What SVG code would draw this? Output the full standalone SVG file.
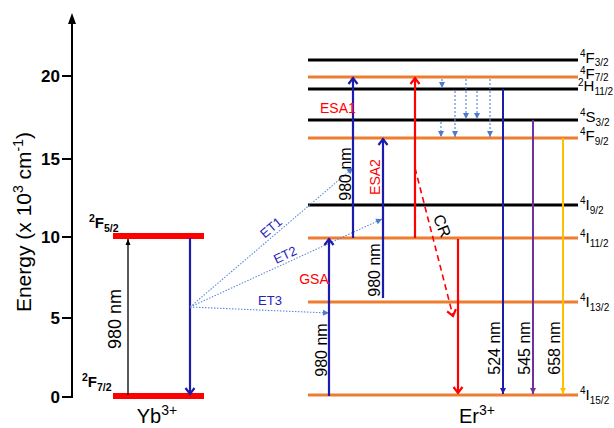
<svg xmlns="http://www.w3.org/2000/svg" width="614" height="428" viewBox="0 0 614 428">
<style>
text{font-family:"Liberation Sans",Arial,sans-serif;}
.tick{font-size:17px;font-weight:bold;text-anchor:end;}
.lvlO{stroke:#ED7D31;stroke-width:3;}
.lvlK{stroke:#000;stroke-width:3;}
.yb{stroke:#FF0000;stroke-width:6;}
.lab{font-size:15px;}
.sm{font-size:10px;}
.blue{stroke:#1C1CAC;stroke-width:2.2;fill:none;}
.red{stroke:#FF0000;stroke-width:2.2;fill:none;}
.et{stroke:#5B8BD6;stroke-width:1.1;stroke-dasharray:1.5 1.5;fill:none;}
.rel{stroke:#5B8BD6;stroke-width:1.2;stroke-dasharray:2 2;fill:none;}
.nm{font-size:16px;fill:#000;}
.redt{fill:#FF0000;font-size:14px;}
.bluet{fill:#2424B8;font-size:13px;}
</style>
<defs>
<marker id="chB" markerUnits="userSpaceOnUse" viewBox="-10 -7 12 14" markerWidth="12" markerHeight="14" refX="0" refY="0" orient="auto">
<path d="M-6,-4.5 L0,0 L-6,4.5" fill="none" stroke="#1C1CAC" stroke-width="2.2"/>
</marker>
<marker id="chR" markerUnits="userSpaceOnUse" viewBox="-10 -7 12 14" markerWidth="12" markerHeight="14" refX="0" refY="0" orient="auto">
<path d="M-6,-4.5 L0,0 L-6,4.5" fill="none" stroke="#FF0000" stroke-width="2.2"/>
</marker>
<marker id="trK" markerUnits="userSpaceOnUse" viewBox="-8 -4 9 8" markerWidth="9" markerHeight="8" refX="0" refY="0" orient="auto">
<path d="M-6,-2.5 L0,0 L-6,2.5 Z" fill="#000"/>
</marker>
<marker id="trB" markerUnits="userSpaceOnUse" viewBox="-8 -4 9 8" markerWidth="9" markerHeight="8" refX="0" refY="0" orient="auto">
<path d="M-6,-3 L0,0 L-6,3 Z" fill="#1C1CAC"/>
</marker>
<marker id="trP" markerUnits="userSpaceOnUse" viewBox="-8 -4 9 8" markerWidth="9" markerHeight="8" refX="0" refY="0" orient="auto">
<path d="M-6,-3 L0,0 L-6,3 Z" fill="#7030A0"/>
</marker>
<marker id="trY" markerUnits="userSpaceOnUse" viewBox="-8 -4 9 8" markerWidth="9" markerHeight="8" refX="0" refY="0" orient="auto">
<path d="M-6,-3 L0,0 L-6,3 Z" fill="#FFC000"/>
</marker>
<marker id="trL" markerUnits="userSpaceOnUse" viewBox="-8 -4 9 8" markerWidth="9" markerHeight="8" refX="0" refY="0" orient="auto">
<path d="M-6,-3 L0,0 L-6,3 Z" fill="#4A7BD0"/>
</marker>
</defs>
<rect width="614" height="428" fill="#fff"/>

<g id="axis">
<line x1="72" y1="398" x2="72" y2="22" stroke="#000" stroke-width="2"/>
<path d="M68,24 L72,13 L76,24 Z" fill="#000"/>
<g stroke="#000" stroke-width="2">
<line x1="62" y1="76" x2="72" y2="76"/>
<line x1="62" y1="159" x2="72" y2="159"/>
<line x1="62" y1="237" x2="72" y2="237"/>
<line x1="62" y1="318" x2="72" y2="318"/>
<line x1="62" y1="397" x2="72" y2="397"/>
</g>
<text class="tick" x="60" y="82">20</text>
<text class="tick" x="60" y="165">15</text>
<text class="tick" x="60" y="243">10</text>
<text class="tick" x="60" y="324">5</text>
<text class="tick" x="60" y="403">0</text>
<text transform="translate(31,222) rotate(-90)" text-anchor="middle" font-size="21">Energy (x 10<tspan font-size="14" dy="-8">3</tspan><tspan dy="8"> cm</tspan><tspan font-size="14" dy="-8">-1</tspan><tspan dy="8">)</tspan></text>
</g>

<g id="yb-2F52">
<line class="yb" x1="113" y1="236" x2="204" y2="236"/>
<text x="89" y="228" font-weight="bold" font-size="15"><tspan font-size="10.5" y="222">2</tspan><tspan y="228">F</tspan><tspan font-size="10.5" y="232">5/2</tspan></text>
</g>
<g id="yb-2F72">
<line class="yb" x1="113" y1="396" x2="204" y2="396"/>
<text x="82" y="387" font-weight="bold" font-size="15"><tspan font-size="10.5" y="381">2</tspan><tspan y="387">F</tspan><tspan font-size="10.5" y="391">7/2</tspan></text>
</g>
<text x="157" y="423" text-anchor="middle" font-size="20">Yb<tspan font-size="14" dy="-8">3+</tspan></text>

<g id="er-4F32"><line class="lvlK" x1="308" y1="60" x2="578" y2="60"/>
<text class="lab" x="580" y="63"><tspan class="sm" y="57">4</tspan><tspan y="63">F</tspan><tspan class="sm" y="66">3/2</tspan></text></g>
<g id="er-4F72"><line class="lvlO" x1="308" y1="77" x2="578" y2="77"/>
<text class="lab" x="580" y="79"><tspan class="sm" y="74">4</tspan><tspan y="79">F</tspan><tspan class="sm" y="81">7/2</tspan></text></g>
<g id="er-2H112"><line class="lvlK" x1="308" y1="89" x2="578" y2="89"/>
<text class="lab" x="578" y="91"><tspan class="sm" y="86">2</tspan><tspan y="91">H</tspan><tspan class="sm" y="95">11/2</tspan></text></g>
<g id="er-4S32"><line class="lvlK" x1="308" y1="120" x2="578" y2="120"/>
<text class="lab" x="580" y="122"><tspan class="sm" y="116">4</tspan><tspan y="122">S</tspan><tspan class="sm" y="126">3/2</tspan></text></g>
<g id="er-4F92"><line class="lvlO" x1="308" y1="138" x2="578" y2="138"/>
<text class="lab" x="580" y="141"><tspan class="sm" y="135">4</tspan><tspan y="141">F</tspan><tspan class="sm" y="145">9/2</tspan></text></g>
<g id="er-4I92"><line class="lvlK" x1="308" y1="205" x2="578" y2="205"/>
<text class="lab" x="580" y="210"><tspan class="sm" y="204">4</tspan><tspan y="210">I</tspan><tspan class="sm" y="214">9/2</tspan></text></g>
<g id="er-4I112"><line class="lvlO" x1="308" y1="238" x2="578" y2="238"/>
<text class="lab" x="580" y="243"><tspan class="sm" y="237">4</tspan><tspan y="243">I</tspan><tspan class="sm" y="247">11/2</tspan></text></g>
<g id="er-4I132"><line class="lvlO" x1="308" y1="302" x2="578" y2="302"/>
<text class="lab" x="580" y="307"><tspan class="sm" y="301">4</tspan><tspan y="307">I</tspan><tspan class="sm" y="311">13/2</tspan></text></g>
<g id="er-4I152"><line class="lvlO" x1="308" y1="395" x2="578" y2="395"/>
<text class="lab" x="580" y="400"><tspan class="sm" y="394">4</tspan><tspan y="400">I</tspan><tspan class="sm" y="404">15/2</tspan></text></g>
<text x="477" y="423" text-anchor="middle" font-size="20">Er<tspan font-size="14" dy="-8">3+</tspan></text>

<g id="connectors">
<line x1="128" y1="395" x2="128" y2="239" stroke="#000" stroke-width="1.3" marker-end="url(#trK)"/>
<line class="blue" x1="190" y1="238" x2="190" y2="394" marker-end="url(#chB)"/>
<line class="et" x1="190" y1="307" x2="353" y2="168" marker-end="url(#trL)"/>
<line class="et" x1="190" y1="307" x2="382" y2="219" marker-end="url(#trL)"/>
<line class="et" x1="190" y1="307" x2="329" y2="313" marker-end="url(#trL)"/>
<line class="blue" x1="329" y1="396" x2="329" y2="239" marker-end="url(#chB)"/>
<line class="blue" x1="353" y1="238" x2="353" y2="78" marker-end="url(#chB)"/>
<line class="blue" x1="383" y1="298" x2="383" y2="139" marker-end="url(#chB)"/>
<line class="red" x1="415" y1="238" x2="415" y2="78" marker-end="url(#chR)"/>
<line class="red" x1="458" y1="239" x2="458" y2="393" marker-end="url(#chR)"/>
<line x1="415" y1="168" x2="453" y2="316" stroke="#FF0000" stroke-width="1.6" stroke-dasharray="6 4" marker-end="url(#chR)"/>
<line x1="503" y1="89" x2="503" y2="394" stroke="#1C1CAC" stroke-width="2" marker-end="url(#trB)"/>
<line x1="533" y1="120" x2="533" y2="394" stroke="#7030A0" stroke-width="2" marker-end="url(#trP)"/>
<line x1="563" y1="138" x2="563" y2="394" stroke="#FFC000" stroke-width="2" marker-end="url(#trY)"/>
<line class="rel" x1="442" y1="79" x2="442" y2="88" marker-end="url(#trL)"/>
<line class="rel" x1="455" y1="91" x2="455" y2="137" marker-end="url(#trL)"/>
<line class="rel" x1="466" y1="79" x2="466" y2="119" marker-end="url(#trL)"/>
<line class="rel" x1="477" y1="91" x2="477" y2="119" marker-end="url(#trL)"/>
<line class="rel" x1="490" y1="79" x2="490" y2="137" marker-end="url(#trL)"/>
<line class="rel" x1="441" y1="122" x2="441" y2="137" marker-end="url(#trL)"/>
</g>

<g id="labels">
<text class="nm" transform="translate(121,319) rotate(-90)" text-anchor="middle" style="font-size:18px">980 nm</text>
<text class="nm" transform="translate(327,350) rotate(-90)" text-anchor="middle">980 nm</text>
<text class="nm" transform="translate(351,174) rotate(-90)" text-anchor="middle">980 nm</text>
<text class="nm" transform="translate(380,270) rotate(-90)" text-anchor="middle">980 nm</text>
<text class="nm" transform="translate(500,348) rotate(-90)" text-anchor="middle">524 nm</text>
<text class="nm" transform="translate(530,348) rotate(-90)" text-anchor="middle">545 nm</text>
<text class="nm" transform="translate(560,348) rotate(-90)" text-anchor="middle">658 nm</text>
<text class="redt" x="320" y="113">ESA1</text>
<text class="redt" transform="translate(380,177) rotate(-90)" text-anchor="middle">ESA2</text>
<text class="redt" x="314" y="284" text-anchor="middle">GSA</text>
<text class="nm" transform="translate(437,228) rotate(68)" text-anchor="middle" style="font-size:16px">CR</text>
<text class="bluet" transform="translate(274,231) rotate(-40)" text-anchor="middle">ET1</text>
<text class="bluet" transform="translate(287,259) rotate(-25)" text-anchor="middle">ET2</text>
<text class="bluet" x="270" y="305" text-anchor="middle">ET3</text>
</g>
</svg>
